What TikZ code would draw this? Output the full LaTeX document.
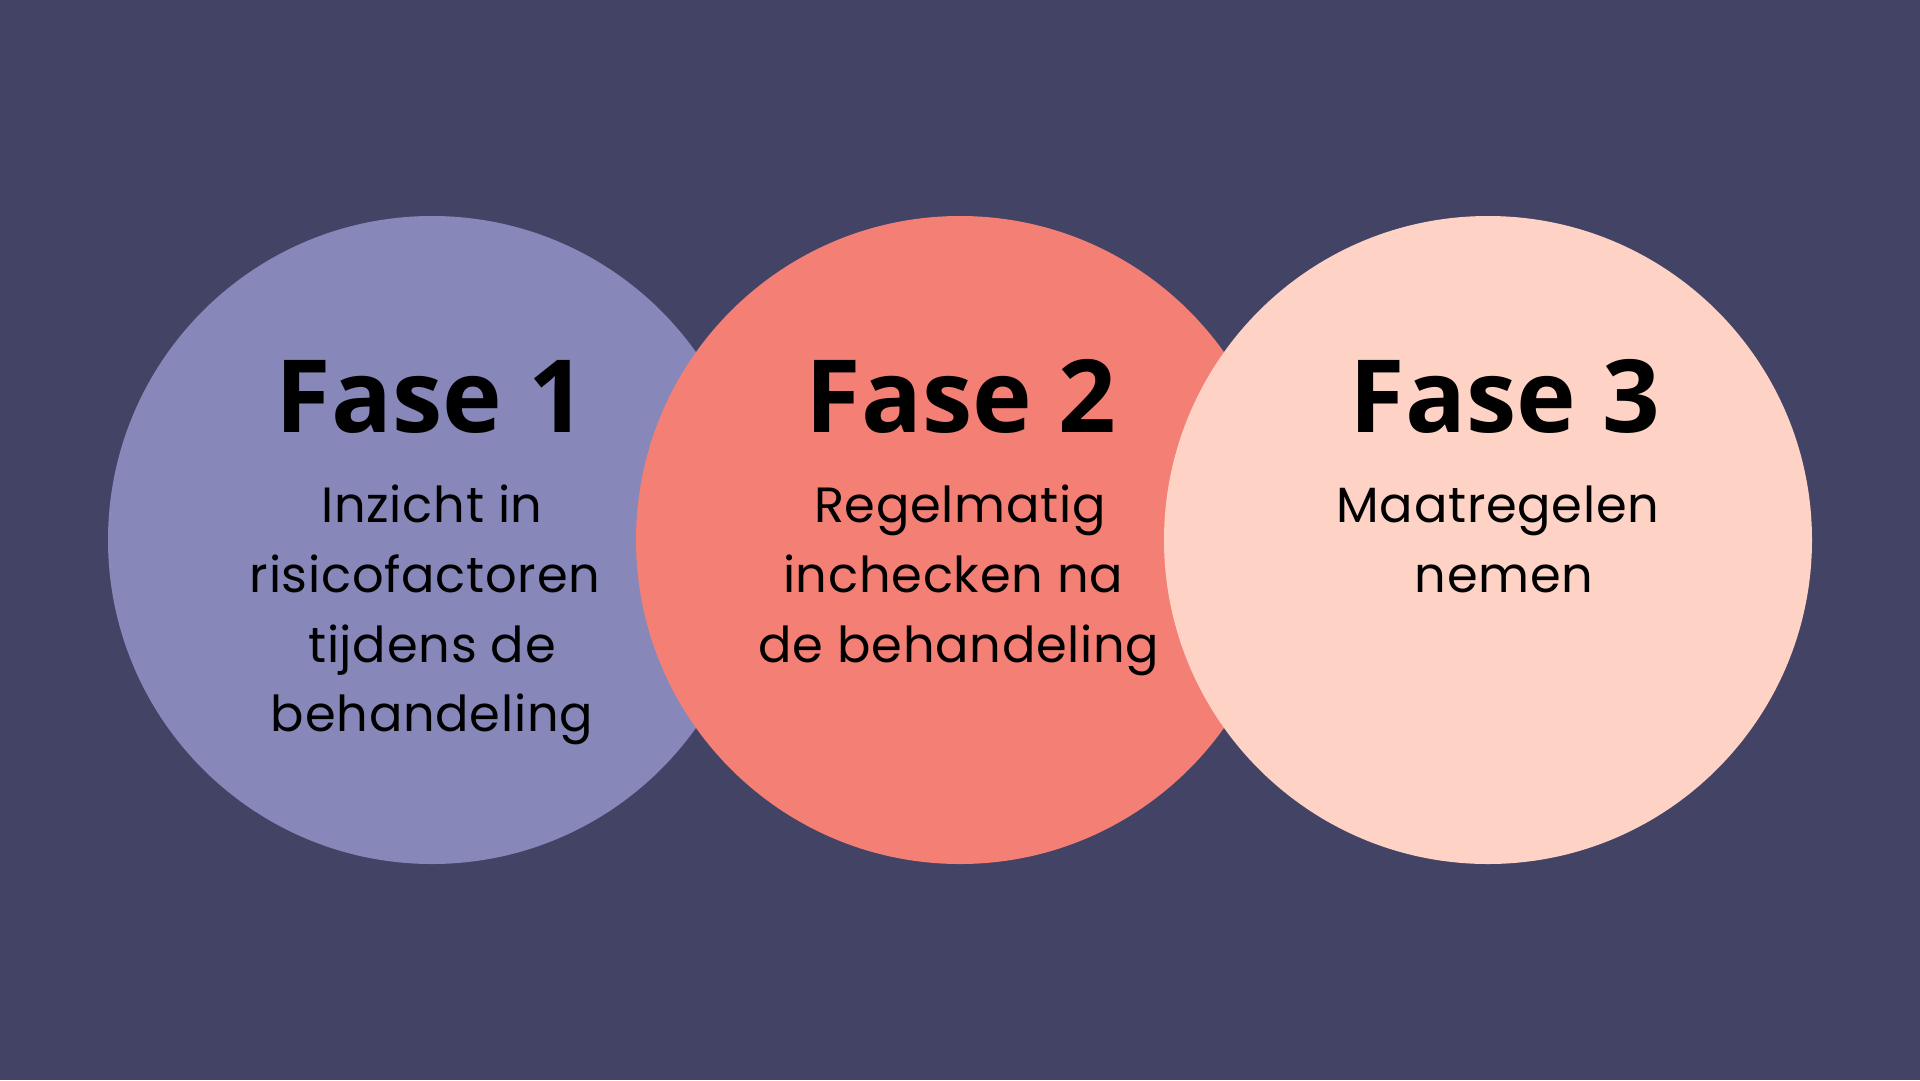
\documentclass[tikz,border=0pt]{standalone}
\usepackage{fontspec}
\setmainfont{Poppins}[LetterSpace=1.5]
\newfontfamily\titlefont{Open Sans}
\definecolor{bgc}{HTML}{434366}
\definecolor{cone}{HTML}{8787B9}
\definecolor{ctwo}{HTML}{F37F75}
\definecolor{cthree}{HTML}{FED3C6}
\tikzset{
  disc/.style={circle, inner sep=0pt, minimum size=648pt, draw=none},
  title/.style={anchor=base, inner sep=0pt, text=black, font=\titlefont\bfseries\fontsize{101}{101}\selectfont},
  body/.style={anchor=base, inner sep=0pt, text=black, font=\fontsize{49.5}{70}\selectfont}
}
\begin{document}
\begin{tikzpicture}[x=1pt,y=-1pt]
\fill[bgc] (0,0) rectangle (1920,1080);
\useasboundingbox (0,0) rectangle (1920,1080);
\node[disc, fill=cone] (c1) at (432,540) {};
\node[disc, fill=ctwo] (c2) at (960,540) {};
\node[disc, fill=cthree] (c3) at (1488,540) {};
% Fase 1
\node[title] (t1) at (431,432) {Fase 1};
\node[body] (a1) at (432,522) {Inzicht in};
\node[body] (a2) at (425,592) {risicofactoren};
\node[body] (a3) at (432,662) {tijdens de};
\node[body] (a4) at (432,731) {behandeling};
% Fase 2
\node[title] (t2) at (961,432) {Fase 2};
\node[body] (b1) at (960,522) {Regelmatig};
\node[body] (b2) at (953,592) {inchecken na};
\node[body] (b3) at (959,662) {de behandeling};
% Fase 3
\node[title] (t3) at (1505,432) {Fase 3};
\node[body] (d1) at (1498,522) {Maatregelen};
\node[body] (d2) at (1504,592) {nemen};
\end{tikzpicture}
\end{document}
